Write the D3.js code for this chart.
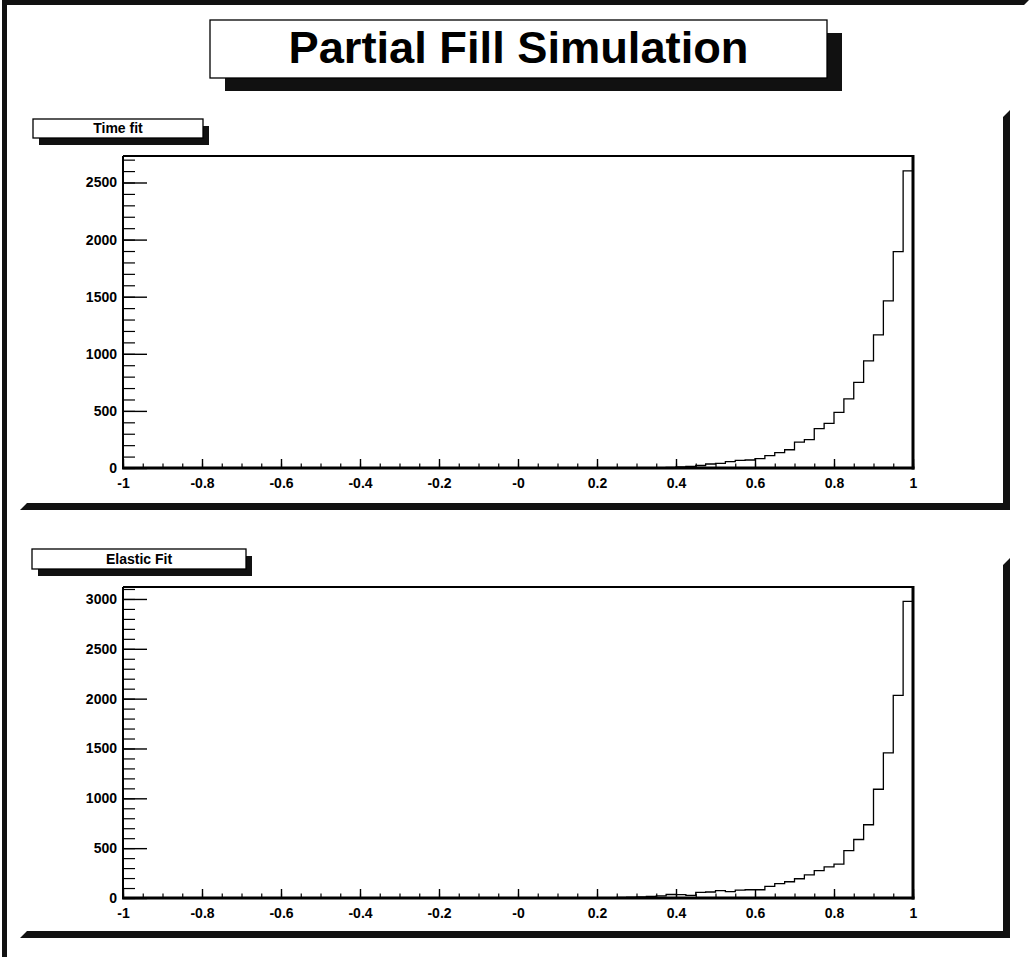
<!DOCTYPE html>
<html>
<head>
<meta charset="utf-8">
<script src="https://cdn.jsdelivr.net/npm/d3@7"></script>
<style>
  html, body { margin: 0; padding: 0; background: #fff; }
  svg { display: block; }
  text { font-family: "Liberation Sans", Arial, Helvetica, sans-serif; font-weight: bold; fill: #000; }
</style>
</head>
<body>
<svg id="chart" width="1029" height="957"></svg>
<script>
// ---------------- data ----------------
const mainTitle = "Partial Fill Simulation";
const panelTitles = ["Time fit", "Elastic Fit"];

const binEdges = d3.range(81).map(i => -1 + i * 0.025); // 80 bins over [-1, 1]

const xTickValues = [-1, -0.8, -0.6, -0.4, -0.2, 0, 0.2, 0.4, 0.6, 0.8, 1];
const xTickLabels = ["-1", "-0.8", "-0.6", "-0.4", "-0.2", "-0", "0.2", "0.4", "0.6", "0.8", "1"];

const timeFitYTicks = [0, 500, 1000, 1500, 2000, 2500];
const elasticFitYTicks = [0, 500, 1000, 1500, 2000, 2500, 3000];

// bins 0..47 ([-1, 0.2]) are empty
const timeFitCounts = [
  0,0,0,0,0,0,0,0,0,0, 0,0,0,0,0,0,0,0,0,0,
  0,0,0,0,0,0,0,0,0,0, 0,0,0,0,0,0,0,0,0,0,
  0,0,0,0,0,0,0,0,
  0,0,1,1,2,3,4,6,            // 0.20 - 0.40
  10,15,22,35,41,55,66,70,    // 0.40 - 0.60
  82,108,134,160,227,248,344,390, // 0.60 - 0.80
  487,606,749,938,1166,1463,1894,2602 // 0.80 - 1.00
];

const elasticFitCounts = [
  0,0,0,0,0,0,0,0,0,0, 0,0,0,0,0,0,0,0,0,0,
  0,0,0,0,0,0,0,0,0,0, 0,0,0,0,0,0,0,0,0,0,
  0,0,0,0,0,0,0,0,
  1,2,5,8,12,16,22,35,        // 0.20 - 0.40
  33,27,57,60,73,63,80,83,    // 0.40 - 0.60
  83,117,145,163,193,231,274,313, // 0.60 - 0.80
  340,476,587,735,1091,1456,2033,2976 // 0.80 - 1.00
];

// ---------------- drawing ----------------
const svg = d3.select("#chart");
const W = 1029, H = 957;
svg.append("rect").attr("width", W).attr("height", H).attr("fill", "#fff");

// canvas border (dark bevel top/left)
(function () {
  const x1 = 2, y1 = 0, x2 = W, y2 = H, bw = 5;
  svg.append("polygon")
    .attr("points", [[x1, y1], [x2, y1], [x2 - bw, y1 + bw], [x1 + bw, y1 + bw], [x1 + bw, y2], [x1, y2]].join(" "))
    .attr("fill", "#111");
})();

// pad bevels (dark bottom/right)
function padBevel(x1, y1, x2, y2, bw) {
  svg.append("polygon")
    .attr("points", [[x1, y2], [x1 + bw, y2 - bw], [x2 - bw, y2 - bw], [x2 - bw, y1 + bw], [x2, y1], [x2, y2]].join(" "))
    .attr("fill", "#111");
}
padBevel(20, 110, 1010, 510, 7);
padBevel(20, 558, 1010, 938, 7);

// label box with shadow
function labelBox(x, y, w, h, dx, dy, text, fontSize, baseline, textLen) {
  const g = svg.append("g");
  g.append("rect").attr("x", x + dx).attr("y", y + dy).attr("width", w).attr("height", h).attr("fill", "#111");
  g.append("rect").attr("x", x).attr("y", y).attr("width", w).attr("height", h)
    .attr("fill", "#fff").attr("stroke", "#000").attr("stroke-width", 1.3);
  const t = g.append("text").attr("x", x + w / 2).attr("y", baseline)
    .attr("text-anchor", "middle").attr("font-size", fontSize).text(text);
  if (textLen) t.attr("textLength", textLen).attr("lengthAdjust", "spacingAndGlyphs");
}
labelBox(210, 20, 617, 58, 15, 13, mainTitle, 44, 63, 460);
labelBox(33, 119, 170, 19, 6, 7, panelTitles[0], 14, 133);
labelBox(32, 549, 214, 20, 6, 7, panelTitles[1], 14, 564);

function drawPanel(cfg) {
  const { counts, yTicks, yMax, top, bottom } = cfg;
  const left = 123, right = 913;
  const x = d3.scaleLinear().domain([-1, 1]).range([left, right]);
  const y = d3.scaleLinear().domain([0, yMax]).range([bottom, top]);
  const g = svg.append("g");

  // minor ticks
  const xMinor = d3.range(-1, 1.0001, 0.05).map(v => +v.toFixed(3));
  g.append("g").attr("transform", `translate(0,${bottom})`)
    .call(d3.axisBottom(x).tickValues(xMinor).tickSize(-4.5).tickSizeOuter(0).tickFormat(""))
    .call(a => a.select(".domain").remove())
    .call(a => a.selectAll("line").attr("stroke", "#000").attr("stroke-width", 1.2));
  const yMinor = d3.range(0, yMax, 100);
  g.append("g").attr("transform", `translate(${left},0)`)
    .call(d3.axisLeft(y).tickValues(yMinor).tickSize(-12).tickSizeOuter(0).tickFormat(""))
    .call(a => a.select(".domain").remove())
    .call(a => a.selectAll("line").attr("stroke", "#000").attr("stroke-width", 1.2));

  // major x axis
  g.append("g").attr("transform", `translate(0,${bottom})`)
    .call(d3.axisBottom(x).tickValues(xTickValues).tickSize(-9).tickSizeOuter(0).tickPadding(10)
      .tickFormat((d, i) => xTickLabels[i]))
    .call(a => a.select(".domain").remove())
    .call(a => a.selectAll("line").attr("stroke", "#000").attr("stroke-width", 1.4))
    .call(a => a.selectAll("text").attr("font-size", 14).attr("font-family", null).attr("fill", "#000"));

  // major y axis
  g.append("g").attr("transform", `translate(${left},0)`)
    .call(d3.axisLeft(y).tickValues(yTicks).tickSize(-24).tickSizeOuter(0).tickPadding(6)
      .tickFormat(d3.format("d")))
    .call(a => a.select(".domain").remove())
    .call(a => a.selectAll("line").attr("stroke", "#000").attr("stroke-width", 1.4))
    .call(a => a.selectAll("text").attr("font-size", 14).attr("font-family", null).attr("fill", "#000"));

  // histogram
  const pts = [];
  counts.forEach((c, i) => {
    pts.push([x(binEdges[i]), y(c)]);
    pts.push([x(binEdges[i + 1]), y(c)]);
  });
  g.append("path").attr("d", d3.line()(pts))
    .attr("fill", "none").attr("stroke", "#000").attr("stroke-width", 1.3);

  // frame
  g.append("line").attr("x1", left).attr("x2", right).attr("y1", top).attr("y2", top)
    .attr("stroke", "#000").attr("stroke-width", 2);
  g.append("line").attr("x1", left).attr("x2", left).attr("y1", top).attr("y2", bottom)
    .attr("stroke", "#000").attr("stroke-width", 2);
  g.append("line").attr("x1", right).attr("x2", right).attr("y1", top - 1).attr("y2", bottom + 1.5)
    .attr("stroke", "#000").attr("stroke-width", 3);
  g.append("line").attr("x1", left - 1).attr("x2", right + 1.5).attr("y1", bottom).attr("y2", bottom)
    .attr("stroke", "#000").attr("stroke-width", 3);
}

drawPanel({ counts: timeFitCounts, yTicks: timeFitYTicks, yMax: 2732, top: 156, bottom: 468 });
drawPanel({ counts: elasticFitCounts, yTicks: elasticFitYTicks, yMax: 3120, top: 587, bottom: 898 });
</script>
</body>
</html>
